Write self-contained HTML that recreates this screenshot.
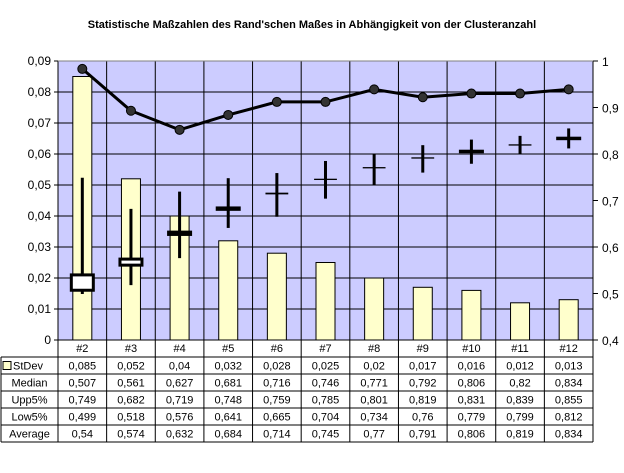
<!DOCTYPE html>
<html><head><meta charset="utf-8">
<style>
body{margin:0;background:#fff;}
svg{display:block;font-family:"Liberation Sans",Arial,sans-serif;}
</style></head>
<body>
<svg id="chart" width="624" height="473" viewBox="0 0 624 473" xmlns="http://www.w3.org/2000/svg">
<rect x="0" y="0" width="624" height="473" fill="#fff"/>
<text x="312" y="28" text-anchor="middle" font-size="11" font-weight="bold">Statistische Maßzahlen des Rand'schen Maßes in Abhängigkeit von der Clusteranzahl</text>
<rect x="58" y="61" width="535" height="279" fill="#ccccff"/>
<g id="grid"></g>
<g id="bars"></g>
<g id="stock"></g>
<g id="line"></g>
<g id="axes"></g>
<g id="table"></g>
</svg>
<script>
const categories = ["#2","#3","#4","#5","#6","#7","#8","#9","#10","#11","#12"];
const stdev = [0.085,0.052,0.04,0.032,0.028,0.025,0.02,0.017,0.016,0.012,0.013];
const median = [0.507,0.561,0.627,0.681,0.716,0.746,0.771,0.792,0.806,0.82,0.834];
const upp5 = [0.749,0.682,0.719,0.748,0.759,0.785,0.801,0.819,0.831,0.839,0.855];
const low5 = [0.499,0.518,0.576,0.641,0.665,0.704,0.734,0.76,0.779,0.799,0.812];
const average = [0.54,0.574,0.632,0.684,0.714,0.745,0.77,0.791,0.806,0.819,0.834];
const lineValues = [0.983,0.893,0.852,0.884,0.912,0.912,0.939,0.922,0.930,0.930,0.939];
const leftTicks = ["0","0,01","0,02","0,03","0,04","0,05","0,06","0,07","0,08","0,09"];
const rightTicks = ["0,4","0,5","0,6","0,7","0,8","0,9","1"];
const stdevLabels = ["0,085","0,052","0,04","0,032","0,028","0,025","0,02","0,017","0,016","0,012","0,013"];
const medianLabels = ["0,507","0,561","0,627","0,681","0,716","0,746","0,771","0,792","0,806","0,82","0,834"];
const uppLabels = ["0,749","0,682","0,719","0,748","0,759","0,785","0,801","0,819","0,831","0,839","0,855"];
const lowLabels = ["0,499","0,518","0,576","0,641","0,665","0,704","0,734","0,76","0,779","0,799","0,812"];
const avgLabels = ["0,54","0,574","0,632","0,684","0,714","0,745","0,77","0,791","0,806","0,819","0,834"];

const NS="http://www.w3.org/2000/svg";
const X0=58,X1=593,Y0=340,Y1=61;
const bw=(X1-X0)/categories.length;
function xc(i){return X0+bw*(i+0.5);}
function yL(v){return Y0-(v/0.09)*(Y0-Y1);}
function yR(v){return Y0-((v-0.4)/0.6)*(Y0-Y1);}
function mk(tag,attrs,parent){const e=document.createElementNS(NS,tag);for(const k in attrs)e.setAttribute(k,attrs[k]);parent.appendChild(e);return e;}
const grid=document.getElementById('grid'),bars=document.getElementById('bars'),stock=document.getElementById('stock'),line=document.getElementById('line'),axes=document.getElementById('axes'),table=document.getElementById('table');

leftTicks.forEach((t,i)=>{
  const y=yL(i*0.01);
  if(i>0){const g=mk('line',{x1:X0,x2:X1,y1:y,y2:y,stroke:'#000','stroke-width':1},grid);
  
  }
  mk('line',{x1:X0-4,x2:X0,y1:y,y2:y,stroke:'#000'},axes);
  const tx=mk('text',{x:X0-7,y:y+4,'text-anchor':'end','font-size':12},axes);tx.textContent=t;
  
  
});
rightTicks.forEach((t,i)=>{
  const y=yR(0.4+i*0.1);
  mk('line',{x1:X1,x2:X1+5,y1:y,y2:y,stroke:'#000'},axes);
  const tx=mk('text',{x:X1+9,y:y+5,'font-size':12},axes);tx.textContent=t;
  
  
});
for(let i=1;i<categories.length;i++){
  const x=X0+bw*i;
  const g=mk('line',{x1:x,x2:x,y1:Y1,y2:442,stroke:'#000'},grid);
  
  
}
mk('line',{x1:X0,x2:X0,y1:Y1,y2:442,stroke:'#000'},axes);
mk('line',{x1:X1,x2:X1,y1:Y1,y2:442,stroke:'#000'},axes);
mk('line',{x1:X0,x2:X1,y1:Y0,y2:Y0,stroke:'#000'},axes);
mk('line',{x1:X0,x2:X1,y1:Y1,y2:Y1,stroke:'#808080'},axes);

stdev.forEach((v,i)=>{
  const b=mk('rect',{x:xc(i)-9.5,y:yL(v),width:19,height:Y0-yL(v),fill:'#ffffcc',stroke:'#000','stroke-width':1},bars);
  
  
});

categories.forEach((c,i)=>{
  const x=xc(i);
  const hl=mk('line',{x1:x,x2:x,y1:yR(upp5[i]),y2:yR(low5[i]),stroke:'#000','stroke-width':3},stock);
  
  
  const o=median[i],cl=average[i];
  const top=yR(Math.max(o,cl)),bot=yR(Math.min(o,cl));
  const rising=cl>=o;
  const box=mk('rect',{x:x-11,y:top,width:22,height:Math.max(bot-top,0.5),fill:rising?'#fff':'#000',stroke:'#000','stroke-width':rising?3:0.8},stock);
  
  
});

let d='';
lineValues.forEach((v,i)=>{d+=(i?'L':'M')+xc(i)+' '+yR(v);});
const pl=mk('path',{d:d,fill:'none',stroke:'#000','stroke-width':3},line);


lineValues.forEach((v,i)=>{
  const p=mk('circle',{cx:xc(i),cy:yR(v),r:4.5,fill:'#333',stroke:'#000','stroke-width':1},line);
  
  
});

const rowTop=357,rh=17;
categories.forEach((c,i)=>{
  const t=mk('text',{x:xc(i),y:352,'text-anchor':'middle','font-size':11},table);t.textContent=c;
  
  
});
const rows=[["StDev",stdevLabels],["Median",medianLabels],["Upp5%",uppLabels],["Low5%",lowLabels],["Average",avgLabels]];
for(let r=0;r<=rows.length;r++){
  mk('line',{x1:1,x2:X1,y1:rowTop+r*rh,y2:rowTop+r*rh,stroke:'#000'},table);
}
mk('line',{x1:1,x2:1,y1:rowTop,y2:rowTop+rows.length*rh,stroke:'#000'},table);
rows.forEach((row,r)=>{
  const y=rowTop+r*rh+12.5;
  if(r===0){
    const k=mk('rect',{x:3,y:rowTop+4.5,width:8,height:8,fill:'#ffffcc',stroke:'#000'},table);
    
    
    const t=mk('text',{x:13,y:y,'font-size':11},table);t.textContent=row[0];
    
    
  } else {
    const t=mk('text',{x:29.5,y:y,'text-anchor':'middle','font-size':11},table);t.textContent=row[0];
    
    
  }
  row[1].forEach((s,i)=>{
    const t=mk('text',{x:xc(i),y:y,'text-anchor':'middle','font-size':11},table);t.textContent=s;
    
    
  });
});
</script>
</body></html>
